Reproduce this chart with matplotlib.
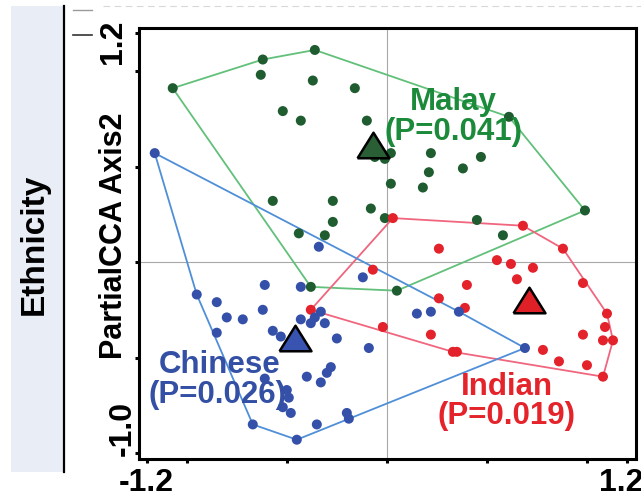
import numpy as np
import matplotlib
matplotlib.use("Agg")
import matplotlib.pyplot as plt
from matplotlib.transforms import offset_copy, blended_transform_factory
from matplotlib.patches import Rectangle
from matplotlib.lines import Line2D

plt.rcParams["font.family"] = ["Liberation Sans", "DejaVu Sans"]
plt.rcParams["font.weight"] = "bold"

# sample scores (Axis1, Axis2) per ethnic group
malay_x = [-1.07, -0.62, -0.63, -0.52, -0.43, -0.36, -0.37, -0.16, -0.10, 0.61,
           0.22, 0.47, 0.38, 0.21, 0.02, 0.18, -0.27, -0.08, -0.27, -0.01,
           -0.31, 0.45, 0.99, 0.58, -0.57, -0.44, -0.38, 0.05, -0.06, 0.02, -0.01]
malay_y = [0.91, 1.06, 0.98, 0.79, 0.74, 1.11, 0.95, 0.91, 0.74, 0.76,
           0.57, 0.55, 0.49, 0.47, 0.41, 0.39, 0.32, 0.28, 0.21, 0.23,
           0.14, 0.22, 0.27, 0.14, 0.32, 0.15, -0.13, -0.15, 0.55, 0.57, 0.54]

indian_x = [0.03, 0.68, 0.26, 0.88, -0.07, 0.55, 0.62, 0.73, 0.65, 0.40,
            0.98, 0.26, 0.39, 1.10, -0.38, -0.02, 0.22, 1.09, 0.98, 1.08,
            1.13, 0.33, 0.35, 0.78, 0.86, 1.00, 1.08]
indian_y = [0.23, 0.19, 0.07, 0.07, -0.04, 0.01, -0.01, -0.03, -0.09, -0.12,
            -0.11, -0.19, -0.24, -0.27, -0.25, -0.34, -0.38, -0.34, -0.38, -0.41,
            -0.41, -0.47, -0.47, -0.46, -0.52, -0.54, -0.60]

chinese_x = [-1.16, -0.95, -0.61, -0.43, -0.85, -0.62, -0.80, -0.72, -0.43, -0.36,
             -0.38, -0.31, -0.85, -0.57, -0.53, -0.25, -0.09, -0.61, -0.40, -0.50,
             -0.49, -0.52, -0.48, -0.67, -0.45, -0.35, -0.28, -0.30, -0.33, -0.20,
             -0.19, -0.34, -0.12, -0.33, 0.15, 0.22, 0.36, 0.69]
chinese_y = [0.57, -0.17, -0.12, -0.13, -0.21, -0.25, -0.29, -0.30, -0.30, -0.29,
             -0.32, -0.32, -0.37, -0.36, -0.39, -0.40, -0.45, -0.61, -0.60, -0.67,
             -0.71, -0.76, -0.79, -0.85, -0.93, -0.85, -0.55, -0.58, -0.63, -0.79,
             -0.82, 0.08, -0.08, -0.26, -0.27, -0.26, -0.26, -0.45]

# group centroids
centroid_x = {"Malay": -0.07, "Chinese": -0.46, "Indian": 0.71}
centroid_y = {"Malay": 0.61, "Chinese": -0.40, "Indian": -0.20}
p_values = {"Malay": "0.041", "Chinese": "0.026", "Indian": "0.019"}


def hull(xs, ys):
    pts = sorted(set(zip(xs, ys)))

    def cross(o, a, b):
        return (a[0] - o[0]) * (b[1] - o[1]) - (a[1] - o[1]) * (b[0] - o[0])

    lower, upper = [], []
    for p in pts:
        while len(lower) >= 2 and cross(lower[-2], lower[-1], p) <= 0:
            lower.pop()
        lower.append(p)
    for p in reversed(pts):
        while len(upper) >= 2 and cross(upper[-2], upper[-1], p) <= 0:
            upper.pop()
        upper.append(p)
    h = lower[:-1] + upper[:-1]
    h.append(h[0])
    return np.array(h)


fig = plt.figure(figsize=(6.41, 4.98), dpi=100)
ax = fig.add_axes([0.2164, 0.0783, 0.7758, 0.8655])

# left "Ethnicity" panel
fig.patches.append(Rectangle((0.0172, 0.0522), 0.0811, 0.9357, transform=fig.transFigure,
                             facecolor="#e9edf5", edgecolor="none", zorder=0))
fig.lines.append(Line2D([0.0998, 0.0998], [0.0522, 0.988], transform=fig.transFigure,
                        color="black", lw=1.6))
fig.lines.append(Line2D([0.16, 1.0], [0.988, 0.988], transform=fig.transFigure,
                        color="#d8d8d8", lw=0.8, ls=(0, (6, 4))))
fig.lines.append(Line2D([0.114, 0.143], [0.98, 0.98], transform=fig.transFigure,
                        color="#9a9a9a", lw=1.0))
fig.lines.append(Line2D([0.114, 0.143], [0.93, 0.93], transform=fig.transFigure,
                        color="#333333", lw=1.2))
fig.text(0.054, 0.51, "Ethnicity", rotation=90, ha="center", va="center",
         fontsize=24, color="black")
fig.text(0.178, 0.526, "PartialCCA Axis2", rotation=90, ha="center", va="center",
         fontsize=22, color="black")

groups = [
    ("Malay", malay_x, malay_y, "#1f5c30", "#62c07a", "#1b8a3a", "#2a5e34"),
    ("Indian", indian_x, indian_y, "#e3222b", "#f0667e", "#e4232b", "#e02027"),
    ("Chinese", chinese_x, chinese_y, "#3450a8", "#4f8fd8", "#3450a4", "#3853b0"),
]

ax.axhline(0, color="#a8a8a8", lw=0.8, zorder=1)
ax.axvline(0, color="#a8a8a8", lw=0.8, zorder=1)

for name, xs, ys, dot_c, line_c, text_c, tri_c in groups:
    h = hull(xs, ys)
    ax.plot(h[:, 0], h[:, 1], color=line_c, lw=1.3, zorder=2)
for name, xs, ys, dot_c, line_c, text_c, tri_c in groups:
    ax.scatter(xs, ys, s=52, color=dot_c, edgecolors="none", zorder=3)

tri = [(-1, -0.8), (1, -0.8), (0, 0.8), (-1, -0.8)]
for name, xs, ys, dot_c, line_c, text_c, tri_c in groups:
    ax.plot(centroid_x[name], centroid_y[name], marker=tri, markersize=23,
            markerfacecolor=tri_c, markeredgecolor="black", markeredgewidth=1.8,
            linestyle="none", zorder=5)

label_pos = {"Malay": (0.33, 0.84, 0.335, 0.68),
             "Chinese": (-0.835, -0.54, -0.845, -0.696),
             "Indian": (0.60, -0.654, 0.60, -0.806)}
for name, xs, ys, dot_c, line_c, text_c, tri_c in groups:
    x1, y1, x2, y2 = label_pos[name]
    ax.text(x1, y1, name, color=text_c, fontsize=22.5, ha="center", va="center", zorder=4)
    ax.text(x2, y2, "(P=" + p_values[name] + ")", color=text_c, fontsize=22.5,
            ha="center", va="center", zorder=4)

ax.set_xlim(-1.24, 1.245)
ax.set_ylim(-1.031, 1.225)
ax.set_xticks([-1.2, -1.0, -0.5, 0, 0.5, 1.0, 1.2])
ax.set_yticks([-1.0, -0.5, 0, 0.5, 1.0, 1.2])
ax.tick_params(direction="out", length=3, width=2.2, color="black",
               labelbottom=False, labelleft=False)
for s in ax.spines.values():
    s.set_linewidth(2.2)
    s.set_color("black")

# hand-placed tick labels
tx = blended_transform_factory(ax.transData, ax.transAxes)
ty = blended_transform_factory(ax.transAxes, ax.transData)
ax.text(-1.2, -0.02, "-1.2", transform=tx, ha="center", va="top", fontsize=23)
ax.text(1.2, -0.02, "1.2", transform=offset_copy(tx, fig, x=-6, units="dots"),
        ha="center", va="top", fontsize=23, clip_on=False)
ax.text(-0.022, 1.2, "1.2", transform=offset_copy(ty, fig, y=-9, units="dots"),
        rotation=90, ha="right", va="center", fontsize=23)
ax.text(-0.002, -1.0, "-1.0", transform=offset_copy(ty, fig, y=25, units="dots"),
        rotation=90, ha="right", va="center", fontsize=23)

fig.savefig("out.png", dpi=100)
